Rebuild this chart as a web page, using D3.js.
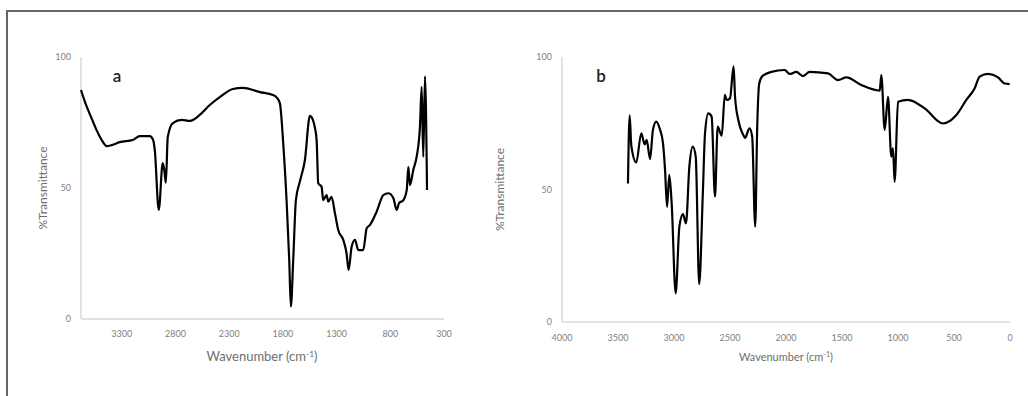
<!DOCTYPE html>
<html>
<head>
<meta charset="utf-8">
<script src="https://cdn.jsdelivr.net/npm/d3@7"></script>
<style>
  html, body { margin: 0; padding: 0; background: #fff; }
  svg { display: block; font-family: Lato, "Open Sans", sans-serif; }
</style>
</head>
<body>
<div id="chart"></div>
<script>
// FTIR spectrum a
const waveA = [3680, 3640, 3596, 3560, 3534, 3490, 3440, 3400, 3320, 3198, 3133, 3040, 3010, 2993, 2956, 2919, 2905, 2890, 2872, 2825,
  2742, 2667, 2574, 2481, 2388, 2266, 2173, 2015, 1893, 1859, 1828, 1797, 1766, 1741, 1726, 1704, 1679, 1642,
  1595, 1549, 1521, 1502, 1486, 1471, 1440, 1425, 1393, 1378, 1347, 1316, 1285, 1238, 1207, 1188, 1160, 1129,
  1098, 1052, 1020, 989, 927, 865, 818, 772, 741, 719, 678, 647, 632, 617, 586, 555, 524, 508, 493, 477, 458];
const transA = [87.4, 82.5, 78, 74.5, 72, 68.5, 66, 66.3, 67.5, 68.3, 69.8, 69.8, 68.5, 64.5, 41.6, 59.5, 57, 52, 69.5, 74.8,
  76, 75.6, 77.9, 81.7, 84.7, 87.8, 88.2, 86.6, 85.5, 84.6, 82.3, 67, 45.4, 22.5, 4.7, 22.5, 45.4, 52.5,
  60.7, 77.5, 76, 73, 68.3, 51.8, 50.5, 45.4, 47.3, 44.8, 46.6, 40.5, 34, 30.2, 25, 18.7, 27.6, 30.2,
  26.3, 26.3, 34.6, 35.9, 41, 47.3, 48, 46.2, 41.6, 44.2, 45.4, 49.2, 58.1, 51.1, 56.9, 61.9, 73.3, 88.6, 61.9, 92.6, 49.2];

// FTIR spectrum b
const waveB = [3411, 3396, 3381, 3337, 3292, 3262, 3244, 3214, 3188, 3158, 3128, 3098, 3080, 3062, 3042, 3021,
  2985, 2952, 2920, 2893, 2863, 2832, 2806, 2775, 2743, 2723, 2694, 2664, 2634, 2610, 2574, 2546, 2530, 2500,
  2468, 2455, 2426, 2381, 2366, 2326, 2302, 2275, 2257, 2239, 2210, 2131, 2012, 1967, 1908, 1848, 1789, 1625,
  1536, 1461, 1327, 1163, 1149, 1119, 1089, 1060, 1045, 1030, 1000, 911, 762, 598, 479, 390, 315, 271, 196, 107, 47, 3];
const transB = [52.3, 78, 66.5, 60.2, 71.2, 67, 68.7, 61.5, 72.5, 75.6, 73, 67.4, 57.4, 43.5, 55.5, 44.9,
  10.8, 36, 40.7, 37.2, 58.6, 66.2, 62.4, 14.3, 48, 71.2, 78.7, 77.5, 47.3, 73.7, 70.3, 85.7, 83.8, 84.4,
  96.5, 85, 76.2, 70.6, 69.5, 73.1, 70, 36, 73.7, 90, 92.8, 94.4, 95.1, 93.6, 94.4, 92.8, 94.4, 93.8,
  91.3, 92.3, 89.4, 87.3, 93.2, 72.5, 85, 62.4, 65.5, 52.9, 83.1, 83.8, 80.6, 74.9, 78.1, 83.8, 88.2, 92.6, 93.6, 92.3, 90, 89.8];

const ticksA = [3300, 2800, 2300, 1800, 1300, 800, 300];
const ticksB = [4000, 3500, 3000, 2500, 2000, 1500, 1000, 500, 0];
const yTicks = [0, 50, 100];

const W = 1028, H = 396;
const svg = d3.select("#chart").append("svg").attr("width", W).attr("height", H);

// outer frame (open on right/bottom, as cropped)
svg.append("path")
  .attr("d", "M7,396 V11 H1028")
  .attr("fill", "none").attr("stroke", "#666").attr("stroke-width", 2);

const panels = [
  { label: "a", waves: waveA, vals: transA, ticks: ticksA, xDomain: [3680, 300], xRange: [81, 444],
    yRange: [319, 57], labelX: 117, titleX: 43, xLabelX: 262, xLabelSize: 13, tickY: 337 },
  { label: "b", waves: waveB, vals: transB, ticks: ticksB, xDomain: [4000, 0], xRange: [562, 1010],
    yRange: [322, 57], labelX: 601, titleX: 500, xLabelX: 786, xLabelSize: 11, tickY: 341 }
];

panels.forEach(function (p) {
  const x = d3.scaleLinear().domain(p.xDomain).range(p.xRange);
  const y = d3.scaleLinear().domain([0, 100]).range(p.yRange);
  const g = svg.append("g");

  // axis lines
  g.append("line").attr("x1", p.xRange[0]).attr("x2", p.xRange[0])
    .attr("y1", p.yRange[0]).attr("y2", p.yRange[1])
    .attr("stroke", "#d9d9d9").attr("stroke-width", 1.5);
  g.append("line").attr("x1", p.xRange[0]).attr("x2", p.xRange[1])
    .attr("y1", p.yRange[0]).attr("y2", p.yRange[0])
    .attr("stroke", "#d9d9d9").attr("stroke-width", 1.5);

  // tick labels
  g.selectAll("text.yt").data(yTicks).enter().append("text")
    .attr("class", "yt")
    .attr("x", p.xRange[0] - 10)
    .attr("y", function (d) { return y(d) + 3; })
    .attr("text-anchor", "end")
    .attr("font-size", 9).attr("fill", "#7f7f7f")
    .text(function (d) { return d; });
  g.selectAll("text.xt").data(p.ticks).enter().append("text")
    .attr("class", "xt")
    .attr("x", function (d) { return x(d); })
    .attr("y", p.tickY)
    .attr("text-anchor", "middle")
    .attr("font-size", 9).attr("fill", "#7f7f7f")
    .text(function (d) { return d; });

  // axis titles
  g.append("text")
    .attr("transform", "translate(" + p.titleX + "," + (p.yRange[0] + p.yRange[1]) / 2 + ") rotate(-90)")
    .attr("text-anchor", "middle").attr("dy", "0.35em")
    .attr("font-size", 12).attr("fill", "#6e6e6e")
    .text("%Transmittance");
  const xl = g.append("text")
    .attr("x", p.xLabelX).attr("y", 361)
    .attr("text-anchor", "middle")
    .attr("font-size", p.xLabelSize).attr("fill", "#6e6e6e");
  xl.append("tspan").text("Wavenumber (cm");
  xl.append("tspan").attr("dy", -4).attr("font-size", p.xLabelSize * 0.65).text("-1");
  xl.append("tspan").attr("dy", 4).text(")");

  // panel letter
  g.append("text")
    .attr("x", p.labelX).attr("y", 82)
    .attr("text-anchor", "middle")
    .attr("font-size", 17).attr("font-weight", 600).attr("fill", "#222")
    .text(p.label);

  // spectrum
  const pts = p.waves.map(function (w, i) { return [w, p.vals[i]]; });
  g.append("path")
    .datum(pts)
    .attr("fill", "none").attr("stroke", "#000").attr("stroke-width", 2.2)
    .attr("stroke-linejoin", "round")
    .attr("d", d3.line().curve(d3.curveMonotoneX)
      .x(function (d) { return x(d[0]); }).y(function (d) { return y(d[1]); }));
});
</script>
</body>
</html>
